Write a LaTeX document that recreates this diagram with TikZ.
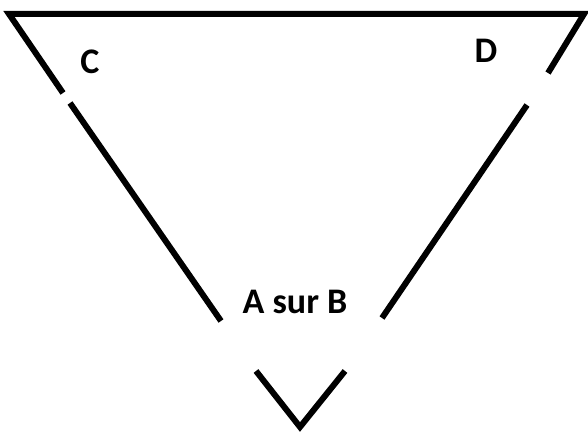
\documentclass[tikz,border=0pt]{standalone}
\usepackage{fontspec}
\setmainfont{Carlito}

\begin{document}
\begin{tikzpicture}[x=1pt,y=-1pt]
\tikzset{
  side/.style={line width=6pt,line join=miter},
  lbl/.style={font=\bfseries\fontsize{36}{40}\selectfont,inner sep=0pt}
}
\useasboundingbox (0,0) rectangle (588,435);
% top bar with the two upper stubs
\draw[side] (63,93) -- (9,14) -- (584,14) -- (548,73);
% lower parts of the sides
\draw[side] (70,103) -- (221,321);
\draw[side] (527,105) -- (382,318);
% small V below
\draw[side] (256,371) -- (300,427) -- (345,371);
\node[lbl] (c) at (90,62) {C};
\node[lbl] (d) at (486,51) {D};
\node[lbl] (ab) at (295,302) {A sur B};
\end{tikzpicture}
\end{document}
